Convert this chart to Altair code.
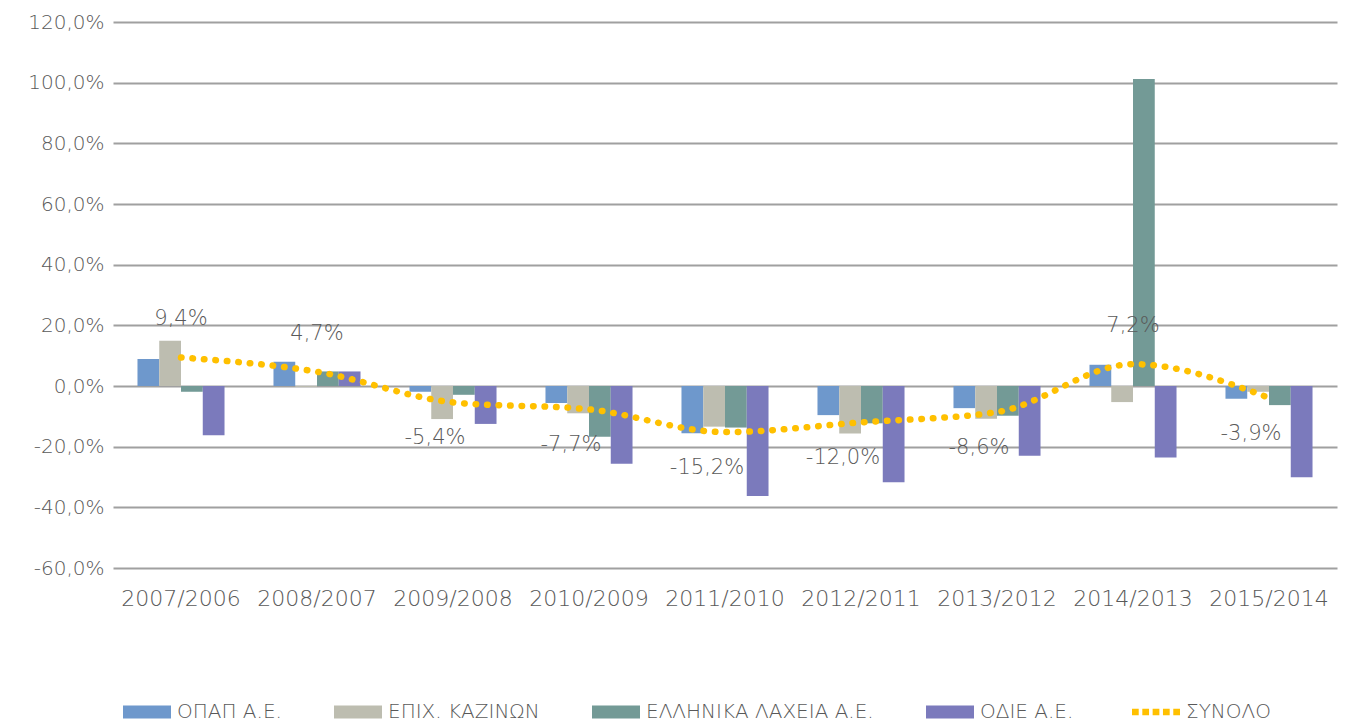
import altair as alt
import pandas as pd

periods = ["2007/2006", "2008/2007", "2009/2008", "2010/2009", "2011/2010",
           "2012/2011", "2013/2012", "2014/2013", "2015/2014"]
series_names = ["ΟΠΑΠ Α.Ε.", "ΕΠΙΧ. ΚΑΖΙΝΩΝ", "ΕΛΛΗΝΙΚΑ ΛΑΧΕΙΑ Α.Ε.", "ΟΔΙΕ  Α.Ε."]
total_name = "ΣΥΝΟΛΟ"
opap = [8.9, 8.0, -1.9, -5.6, -15.6, -9.6, -7.3, 7.0, -4.2]
casinos = [14.9, -0.3, -10.9, -9.0, -13.4, -15.7, -10.8, -5.3, -1.9]
lotteries = [-1.9, 4.8, -2.9, -16.7, -13.7, -12.3, -9.8, 101.2, -6.3]
odie = [-16.2, 4.8, -12.5, -25.6, -36.3, -31.7, -23.0, -23.6, -30.1]
total = [9.4, 4.7, -5.4, -7.7, -15.2, -12.0, -8.6, 7.2, -3.9]
colors = ["#6E98CC", "#BDBDB0", "#739A96", "#7B7ABC", "#FFC000"]

rows = []
for name, vals in zip(series_names, [opap, casinos, lotteries, odie]):
    for p, v in zip(periods, vals):
        rows.append({"period": p, "series": name, "value": v})
bars_df = pd.DataFrame(rows)
tot_df = pd.DataFrame({"period": periods, "value": total, "series": total_name})
tot_df["label"] = [("%.1f" % v).replace(".", ",") + "%" for v in total]

FONT = "DejaVu Sans"
FW = 200
TXT = "#595959"
rect_path = "M-1,-0.27H1V0.27H-1Z"
dots_path = " ".join(
    "M%.3f,-0.14h0.28v0.28h-0.28Z" % (-1 + i * 0.43) for i in range(5)
)
sym_expr = "datum.label == '%s' ? '%s' : '%s'" % (total_name, dots_path, rect_path)

color_scale = alt.Scale(domain=series_names + [total_name], range=colors)
x_enc = alt.X("period:N", sort=periods,
              scale=alt.Scale(paddingInner=0.36, paddingOuter=0.18),
              axis=alt.Axis(title=None, ticks=False, domain=False, labelPadding=20,
                            labelAngle=0, labelFontSize=22, labelColor=TXT,
                            labelFont=FONT, labelFontWeight=FW))
y_scale = alt.Scale(domain=[-60, 120], nice=False)

bars = alt.Chart(bars_df).mark_bar().encode(
    x=x_enc,
    xOffset=alt.XOffset("series:N", sort=series_names),
    y=alt.Y("value:Q", scale=y_scale,
            axis=alt.Axis(title=None, values=list(range(-60, 121, 20)), ticks=False,
                          domain=False, labelPadding=9, labelFontSize=20,
                          labelColor=TXT, labelFont=FONT, labelFontWeight=FW,
                          gridColor="#A0A0A0", gridWidth=2,
                          labelExpr="replace(replace(format(datum.value, '.1f'), '.', ','), '\u2212', '-') + '%'")),
    color=alt.Color("series:N", scale=color_scale,
                    legend=alt.Legend(title=None, orient="none", direction="horizontal",
                                      legendX=10, legendY=666,
                                      symbolType={"expr": sym_expr}, symbolSize=2304,
                                      symbolStrokeWidth=0, labelFontSize=20,
                                      labelFont=FONT, labelFontWeight=FW,
                                      labelColor=TXT, columnPadding=52,
                                      labelOffset=6, labelLimit=400)),
)

line = alt.Chart(tot_df).mark_line(
    strokeWidth=6.5, strokeDash=[0.5, 11], strokeCap="round", interpolate="monotone"
).encode(
    x=alt.X("period:N", sort=periods),
    y=alt.Y("value:Q", scale=y_scale),
    color=alt.Color("series:N", scale=color_scale),
)

labels_pos = alt.Chart(tot_df).transform_filter("datum.value >= 0").mark_text(
    dy=-38, fontSize=21, font=FONT, fontWeight=FW, color=TXT
).encode(x=alt.X("period:N", sort=periods), y=alt.Y("value:Q", scale=y_scale),
         text="label:N")
labels_neg = alt.Chart(tot_df).transform_filter("datum.value < 0").mark_text(
    dy=36, dx=-18, fontSize=21, font=FONT, fontWeight=FW, color=TXT
).encode(x=alt.X("period:N", sort=periods), y=alt.Y("value:Q", scale=y_scale),
         text="label:N")

chart = alt.layer(bars, line, labels_pos, labels_neg).properties(
    width=1224, height=546, background="white",
    padding={"left": 19, "top": 4, "right": 20, "bottom": 0},
).configure_view(stroke=None)

chart.save("out.html", embed_options={"renderer": "svg", "actions": False})
